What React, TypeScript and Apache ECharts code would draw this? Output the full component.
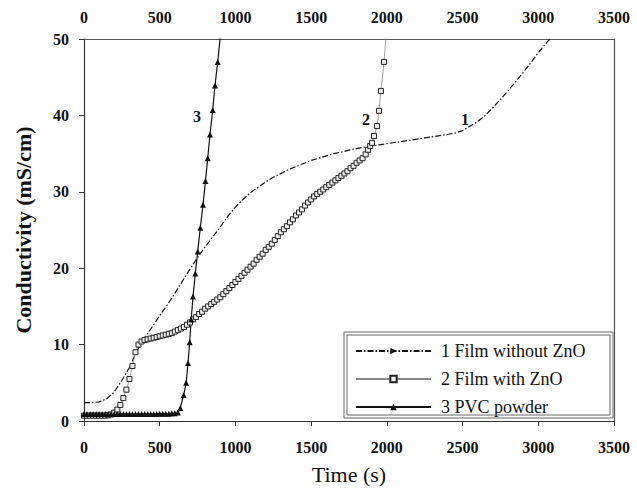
import React, { useEffect, useRef } from 'react';
import * as echarts from 'echarts';

const seriesNames = ['1 Film without ZnO', '2 Film with ZnO', '3 PVC powder'];

// Curve 1: film without ZnO
const film1Time = [0, 50, 100, 150, 200, 250, 300, 350, 400, 450, 500, 550, 600, 650, 700, 750, 800, 850, 900, 950, 1000, 1050, 1100, 1150, 1200, 1250, 1300, 1350, 1400, 1450, 1500, 1550, 1600, 1650, 1700, 1750, 1800, 1850, 1900, 1950, 2000, 2050, 2100, 2150, 2200, 2250, 2300, 2350, 2400, 2450, 2500, 2550, 2600, 2650, 2700, 2750, 2800, 2850, 2900, 2950, 3000, 3050, 3100];
const film1Value = [2.4, 2.4, 2.5, 2.9, 3.8, 5.3, 7.0, 9.2, 10.9, 12.3, 13.8, 15.2, 16.7, 18.3, 19.9, 21.4, 22.8, 24.1, 25.4, 26.8, 28.0, 29.0, 29.9, 30.6, 31.3, 31.9, 32.4, 32.9, 33.3, 33.7, 34.1, 34.4, 34.7, 35.0, 35.2, 35.45, 35.65, 35.85, 36.0, 36.15, 36.3, 36.45, 36.6, 36.75, 36.9, 37.05, 37.2, 37.35, 37.5, 37.7, 38.0, 38.6, 39.2, 40.0, 41.0, 42.1, 43.2, 44.4, 45.6, 46.9, 48.2, 49.4, 50.6];

// Curve 2: film with ZnO
const film2Time = [0, 20, 40, 60, 80, 100, 120, 140, 160, 180, 200, 220, 240, 260, 280, 300, 320, 340, 360, 380, 400, 420, 440, 460, 480, 500, 520, 540, 560, 580, 600, 620, 640, 660, 680, 700, 720, 740, 760, 780, 800, 820, 840, 860, 880, 900, 920, 940, 960, 980, 1000, 1020, 1040, 1060, 1080, 1100, 1120, 1140, 1160, 1180, 1200, 1220, 1240, 1260, 1280, 1300, 1320, 1340, 1360, 1380, 1400, 1420, 1440, 1460, 1480, 1500, 1520, 1540, 1560, 1580, 1600, 1620, 1640, 1660, 1680, 1700, 1720, 1740, 1760, 1780, 1800, 1820, 1840, 1860, 1876, 1890, 1902, 1915, 1935, 1948, 1961, 1981, 1995];
const film2Value = [0.7, 0.7, 0.7, 0.7, 0.7, 0.7, 0.7, 0.7, 0.75, 0.85, 1.1, 1.5, 2.1, 3.0, 4.1, 5.5, 7.2, 9.0, 10.0, 10.4, 10.6, 10.7, 10.8, 10.9, 11.0, 11.1, 11.2, 11.3, 11.4, 11.5, 11.7, 11.9, 12.1, 12.3, 12.6, 12.9, 13.3, 13.6, 14.0, 14.3, 14.7, 15.0, 15.3, 15.6, 15.9, 16.2, 16.6, 17.0, 17.4, 17.8, 18.2, 18.6, 19.0, 19.4, 19.8, 20.2, 20.6, 21.1, 21.5, 21.9, 22.4, 22.8, 23.2, 23.7, 24.2, 24.7, 25.1, 25.5, 26.0, 26.4, 26.9, 27.3, 27.7, 28.2, 28.6, 29.0, 29.4, 29.7, 30.0, 30.3, 30.6, 30.9, 31.2, 31.5, 31.8, 32.1, 32.4, 32.7, 33.1, 33.4, 33.8, 34.1, 34.4, 34.9, 35.5, 36.0, 36.4, 37.3, 38.6, 40.6, 43.2, 47.0, 50.5];

// Curve 3: PVC powder
const pvcTime = [0, 20, 40, 60, 80, 100, 120, 140, 160, 180, 200, 220, 240, 260, 280, 300, 320, 340, 360, 380, 400, 420, 440, 460, 480, 500, 520, 540, 560, 580, 600, 620, 636, 658, 675, 687, 698, 708, 720, 735, 751, 768, 786, 802, 817, 832, 850, 865, 883, 900];
const pvcValue = [0.9, 0.9, 0.9, 0.9, 0.9, 0.9, 0.9, 0.9, 0.9, 0.9, 0.9, 0.9, 0.9, 0.9, 0.9, 0.9, 0.9, 0.9, 0.9, 0.9, 0.9, 0.9, 0.9, 0.9, 0.9, 0.95, 0.95, 0.95, 0.95, 1.0, 1.0, 1.1, 1.7, 3.4, 5.0, 7.6, 10.3, 13.3, 16.3, 19.3, 22.2, 25.3, 28.3, 31.4, 34.4, 37.5, 40.7, 43.9, 47.0, 50.3];

// Curve number annotations [time, value, text]
const curveLabels: [number, number, string][] = [
  [2516, 39.4, '1'],
  [1862, 39.4, '2'],
  [746, 39.9, '3'],
];

const FONT = "'Liberation Serif', 'Times New Roman', serif";

function pairs(t: number[], v: number[]) {
  return t.map((x, i) => [x, v[i]]);
}

export default function App() {
  const ref = useRef<HTMLDivElement>(null);
  useEffect(() => {
    const chart = echarts.init(ref.current!, null, { renderer: 'svg' });
    const labelStyle = { fontFamily: FONT, fontWeight: 'bold', fontSize: 16, color: '#111', formatter: (v: number) => String(v) };
    chart.setOption({
      animation: false,
      backgroundColor: '#fff',
      textStyle: { fontFamily: FONT },
      grid: { left: 84, right: 23, top: 39, bottom: 75 },
      xAxis: [
        {
          type: 'value', min: 0, max: 3500, interval: 500, position: 'bottom',
          name: 'Time (s)', nameLocation: 'middle', nameGap: 42,
          nameTextStyle: { fontFamily: FONT, fontSize: 22, color: '#111' },
          axisLine: { show: true, lineStyle: { color: '#333', width: 1.2 } },
          axisTick: { show: true, inside: false, length: 5, lineStyle: { color: '#333' } },
          axisLabel: { ...labelStyle, margin: 18 },
          splitLine: { show: false },
        },
        {
          type: 'value', min: 0, max: 3500, interval: 500, position: 'top',
          axisLine: { show: true, onZero: false, lineStyle: { color: '#555', width: 1.2 } },
          axisTick: { show: false },
          axisLabel: { ...labelStyle, margin: 14 },
          splitLine: { show: false },
        },
      ],
      yAxis: [
        {
          type: 'value', min: 0, max: 50, interval: 10, position: 'left',
          name: 'Conductivity (mS/cm)', nameLocation: 'middle', nameGap: 50, nameRotate: 90,
          nameTextStyle: { fontFamily: FONT, fontWeight: 'bold', fontSize: 22, color: '#111' },
          axisLine: { show: true, onZero: false, lineStyle: { color: '#333', width: 1.2 } },
          axisTick: { show: true, inside: false, length: 5, lineStyle: { color: '#333' } },
          axisLabel: { ...labelStyle, margin: 15 },
          splitLine: { show: false },
        },
        {
          type: 'value', min: 0, max: 50, interval: 10, position: 'right',
          axisLine: { show: true, onZero: false, lineStyle: { color: '#555', width: 1.2 } },
          axisTick: { show: false }, axisLabel: { show: false }, splitLine: { show: false },
        },
      ],
      legend: {
        orient: 'vertical', left: 355, top: 342, itemWidth: 75, itemHeight: 8, itemGap: 10,
        padding: 0,
        textStyle: { fontFamily: FONT, fontSize: 18, color: '#111', padding: [0, 0, 0, 5] },
        data: seriesNames,
      },
      graphic: [
        { type: 'rect', shape: { x: 344, y: 332, width: 269, height: 86 }, style: { fill: 'none', stroke: '#666', lineWidth: 1 }, z: 100 },
        { type: 'rect', shape: { x: 347, y: 335, width: 263, height: 80 }, style: { fill: 'none', stroke: '#666', lineWidth: 1 }, z: 100 },
      ],
      series: [
        {
          name: seriesNames[0], type: 'line', data: pairs(film1Time, film1Value),
          showSymbol: false, symbol: 'triangle', symbolSize: 3, symbolRotate: -90,
          lineStyle: { color: '#111', width: 1.2, type: [6, 2, 1.5, 2] },
          itemStyle: { color: '#111' },
          markPoint: {
            symbol: 'circle', symbolSize: 0,
            label: { show: true, position: 'inside', formatter: (p: any) => p.name, fontFamily: FONT, fontWeight: 'bold', fontSize: 16, color: '#111' },
            data: curveLabels.map(([x, y, t]) => ({ name: t, coord: [x, y] })),
          },
        },
        {
          name: seriesNames[1], type: 'line', data: pairs(film2Time, film2Value),
          symbol: 'rect', symbolSize: 5, showSymbol: true,
          lineStyle: { color: '#888', width: 0.8 },
          itemStyle: { color: '#eee', borderColor: '#222', borderWidth: 1 },
        },
        {
          name: seriesNames[2], type: 'line', data: pairs(pvcTime, pvcValue),
          symbol: 'triangle', symbolSize: 6, showSymbol: true,
          lineStyle: { color: '#111', width: 1.2 },
          itemStyle: { color: '#111' },
        },
      ],
    });
    return () => chart.dispose();
  }, []);
  return <div ref={ref} style={{ position: 'fixed', left: 0, top: 0, width: 637, height: 496, background: '#fff' }} />;
}
